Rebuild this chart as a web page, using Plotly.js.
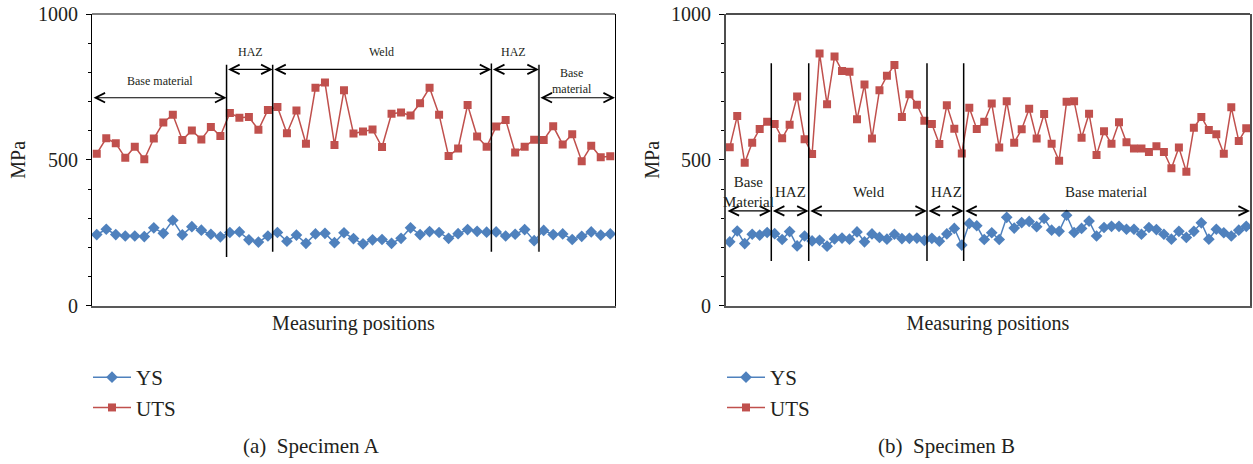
<!DOCTYPE html>
<html>
<head>
<meta charset="utf-8">
<script src="https://cdn.plot.ly/plotly-3.0.1.min.js"></script>
<style>html,body{margin:0;padding:0;background:#fff;}#chart{width:1253px;height:464px;}</style>
</head>
<body>
<div id="chart"></div>
<script>
// ---- Data: Specimen A ----
const posA = [1,2,3,4,5,6,7,8,9,10,11,12,13,14,15,16,17,18,19,20,21,22,23,24,25,26,27,28,29,30,31,32,33,34,35,36,37,38,39,40,41,42,43,44,45,46,47,48,49,50,51,52,53,54,55];
const ysA = [244,262,244,239,239,237,267,248,293,243,271,259,245,236,251,253,226,218,239,
             251,221,242,214,246,248,216,250,230,212,226,227,214,231,267,244,254,251,231,
             247,261,255,252,253,239,245,261,223,258,244,246,227,238,253,242,246];
const utsA = [521,574,557,507,545,502,573,628,655,568,601,570,613,582,661,644,647,603,671,
              681,591,669,555,747,765,551,739,590,597,604,544,658,662,652,694,747,655,513,
              539,688,580,545,614,637,525,545,569,568,615,553,588,495,548,509,512];
const zonesA = ['Base material','HAZ','Weld','HAZ','Base<br>material'];
const boundsA = [0.5,14.65,19.5,42.5,47.5,55.5];

// ---- Data: Specimen B ----
const posB = [1,2,3,4,5,6,7,8,9,10,11,12,13,14,15,16,17,18,19,20,21,22,23,24,25,26,27,28,29,30,31,32,33,34,35,36,37,38,39,40,41,42,43,44,45,46,47,48,49,50,51,52,53,54,55,56,57,58,59,60,61,62,63,64,65,66,67,68,69,70];
const ysB = [219,256,213,245,242,251,247,227,254,205,239,222,224,204,229,232,228,253,219,246,234,228,245,230,231,
             232,224,231,221,246,265,208,282,274,227,250,227,303,266,285,289,271,299,259,255,310,251,
             265,290,239,268,272,272,262,262,245,268,261,245,228,255,234,255,284,228,262,250,239,259,272];
const utsB = [543,650,490,559,606,631,623,574,620,717,571,520,865,691,854,805,802,639,758,573,739,788,825,647,725,
              689,634,623,554,687,607,522,679,606,631,693,542,701,559,605,675,573,657,555,497,699,701,
              576,658,517,598,555,629,560,539,539,527,547,527,471,542,459,610,647,602,588,521,680,565,608];
const zonesB = ['Base<br>Material','HAZ','Weld','HAZ','Base material'];
const boundsB = [0.5,6.55,11.55,27.35,32.25,70.5];

const seriesNames = ['YS','UTS'];
const captions = ['(a)&nbsp;&nbsp;Specimen A','(b)&nbsp;&nbsp;Specimen B'];

const BLUE = '#4f81bd', RED = '#c0504d';
const FONT = 'Liberation Serif, Times New Roman, serif';
const W = 1253, H = 464;
const px = v => v / W, py = v => 1 - v / H;

function tr(x, y, name, color, sym, xa, ya, leg) {
  return {
    x: x, y: y, name: name, type: 'scatter', mode: 'lines+markers',
    xaxis: xa, yaxis: ya, legend: leg,
    line: {color: color, width: 1.5},
    marker: {symbol: sym, size: sym === 'square' ? 8 : 9, color: color}
  };
}

const data = [
  tr(posA, ysA, seriesNames[0], BLUE, 'diamond', 'x', 'y', 'legend'),
  tr(posA, utsA, seriesNames[1], RED, 'square', 'x', 'y', 'legend'),
  tr(posB, ysB, seriesNames[0], BLUE, 'diamond', 'x2', 'y2', 'legend2'),
  tr(posB, utsB, seriesNames[1], RED, 'square', 'x2', 'y2', 'legend2')
];

const shapes = [];
const annotations = [];

function addZones(bounds, zones, xr, yr, lineSpecs, arrowY, labelSpecs, fsz) {
  lineSpecs.forEach(s => {
    shapes.push({type: 'line', xref: xr, yref: yr, x0: bounds[s.i], x1: bounds[s.i], y0: s.top, y1: s.bot,
                 line: {color: s.c || '#000', width: s.w || 1.5}});
  });
  for (let k = 0; k < zones.length; k++) {
    annotations.push({xref: xr, yref: yr, axref: xr, ayref: yr,
      x: bounds[k + 1], y: arrowY[k], ax: bounds[k], ay: arrowY[k], text: '',
      showarrow: true, arrowhead: 5, startarrowhead: 5, arrowside: 'end+start',
      arrowsize: 1.7, startarrowsize: 1.7, arrowwidth: 1.1, arrowcolor: '#000', standoff: 0, startstandoff: 0});
    const L = labelSpecs[k];
    annotations.push({xref: xr, yref: yr, x: L.x, y: L.y, text: zones[k], showarrow: false,
      xanchor: 'center', yanchor: 'middle',
      font: {size: fsz, family: FONT, color: '#231f20'}, align: 'center'});
  }
}

addZones(boundsA, zonesA, 'x', 'y',
  [{i: 1, top: 826, bot: 167}, {i: 2, top: 826, bot: 185}, {i: 3, top: 830, bot: 185}, {i: 4, top: 826, bot: 185, c: '#444', w: 2}],
  [713, 810, 810, 810, 713],
  [{x: 7.68, y: 770}, {x: 17.18, y: 870}, {x: 30.98, y: 870}, {x: 44.85, y: 870}, {x: 51.0, y: 772}], 12);

addZones(boundsB, zonesB, 'x2', 'y2',
  [{i: 1, top: 831, bot: 153}, {i: 2, top: 831, bot: 153}, {i: 3, top: 831, bot: 153}, {i: 4, top: 831, bot: 153}],
  [325, 325, 325, 325, 325],
  [{x: 3.48, y: 391}, {x: 9.05, y: 389}, {x: 19.6, y: 389}, {x: 29.98, y: 389}, {x: 51.2, y: 389}], 15);

// top frame lines
shapes.push({type: 'line', xref: 'x domain', yref: 'y domain', x0: 0, x1: 1, y0: 1, y1: 1, line: {color: '#000', width: 1}});
shapes.push({type: 'line', xref: 'x2 domain', yref: 'y2 domain', x0: 0, x1: 1, y0: 1, y1: 1, line: {color: '#4d4d4d', width: 2}});

annotations.push({xref: 'paper', yref: 'paper', x: px(311), y: py(446), xanchor: 'center', yanchor: 'middle',
  text: captions[0], showarrow: false, font: {size: 21, family: FONT, color: '#231f20'}});
annotations.push({xref: 'paper', yref: 'paper', x: px(946), y: py(446), xanchor: 'center', yanchor: 'middle',
  text: captions[1], showarrow: false, font: {size: 21, family: FONT, color: '#231f20'}});

function xax(dom, range, anchor) {
  return {domain: dom, range: range, anchor: anchor, showticklabels: false, ticks: '', showgrid: false,
    zeroline: false, showline: true, linecolor: '#595959', linewidth: 2, fixedrange: true,
    title: {text: 'Measuring positions', font: {size: 20, family: FONT, color: '#231f20'}, standoff: 9}};
}
function yax(dom, anchor, lc, lw) {
  return {domain: dom, range: [0, 1000], anchor: anchor, tickmode: 'array', tickvals: [0, 500, 1000],
    ticks: 'outside', ticklen: 5, tickcolor: '#000', tickwidth: 1, showgrid: false, zeroline: false,
    showline: true, mirror: true, linecolor: lc, linewidth: lw, fixedrange: true, ticklabelstandoff: 4,
    tickfont: {size: 20, family: FONT, color: '#231f20'},
    minor: {tickmode: 'linear', tick0: 0, dtick: 100, ticks: 'outside', ticklen: 3, tickcolor: '#000', showgrid: false},
    title: {text: 'MPa', font: {size: 20, family: FONT, color: '#231f20'}, standoff: 6}};
}

const yDom = [py(305.7), py(14)];
const legendBase = {xanchor: 'left', yanchor: 'top', bgcolor: 'rgba(0,0,0,0)', itemwidth: 38,
  font: {size: 21, family: FONT, color: '#231f20'}, tracegroupgap: 0};
const layout = {
  width: W, height: H, margin: {l: 0, r: 0, t: 0, b: 0},
  paper_bgcolor: '#fff', plot_bgcolor: '#fff',
  font: {family: FONT, color: '#231f20'},
  xaxis: xax([px(92), px(615)], [0.5, 55.5], 'y'),
  yaxis: yax(yDom, 'x', '#000', 1),
  xaxis2: xax([px(726), px(1250)], [0.5, 70.5], 'y2'),
  yaxis2: yax(yDom, 'x2', '#4d4d4d', 2),
  legend: Object.assign({x: px(88), y: py(357)}, legendBase),
  legend2: Object.assign({x: px(722), y: py(357)}, legendBase),
  showlegend: true,
  shapes: shapes, annotations: annotations
};

Plotly.newPlot('chart', data, layout, {displayModeBar: false, staticPlot: true});
</script>
</body>
</html>
